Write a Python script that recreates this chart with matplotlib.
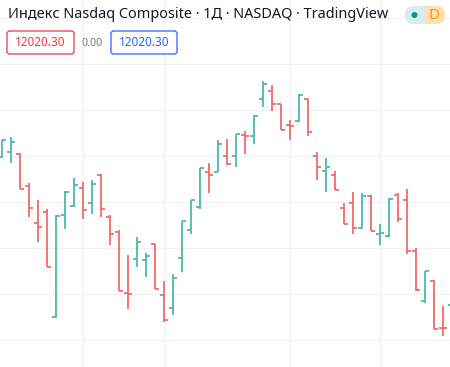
import matplotlib
matplotlib.use("Agg")
import matplotlib.pyplot as plt
from matplotlib.patches import FancyBboxPatch, Ellipse, Rectangle
import numpy as np

# ---------------- data (daily OHLC, index points) ----------------
opens = [12875, 12900, 12890, 12730, 12545, 12600, 12075, 12585, 12630, 12720,
         12645, 12785, 12575, 12500, 12195, 12365, 12360, 12440, 12185, 12120,
         12370, 12510, 12625, 12800, 12800, 12880, 12880, 12985, 12980, 13165,
         13205, 13140, 13035, 13055, 13165, 12880, 12805, 12785, 12620, 12645,
         12520, 12680, 12490, 12480, 12685, 12660, 12405, 12155, 12255, 12020.30,
         12135]
highs = [12960, 12975, 12895, 12745, 12660, 12615, 12585, 12705, 12770, 12750,
         12760, 12790, 12585, 12510, 12385, 12475, 12395, 12440, 12255, 12290,
         12555, 12660, 12820, 12845, 12960, 12965, 12990, 13005, 13085, 13255,
         13235, 13140, 13060, 13190, 13165, 12900, 12870, 12805, 12645, 12700,
         12695, 12685, 12540, 12670, 12695, 12715, 12420, 12305, 12260, 12130,
         12200]
lows = [12870, 12845, 12715, 12575, 12450, 12325, 12070, 12515, 12625, 12565,
        12590, 12575, 12435, 12205, 12115, 12325, 12275, 12215, 12050, 12085,
        12300, 12490, 12615, 12695, 12800, 12835, 12825, 12890, 12940, 13125,
        13105, 13010, 12960, 13050, 12980, 12760, 12700, 12710, 12540, 12490,
        12515, 12505, 12435, 12475, 12550, 12390, 12205, 12145, 12015, 11980,
        12100]
closes = [12960, 12950, 12715, 12620, 12525, 12325, 12580, 12700, 12735, 12610,
          12740, 12615, 12490, 12205, 12190, 12450, 12380, 12215, 12060, 12270,
          12555, 12660, 12820, 12785, 12940, 12840, 12990, 12980, 13080, 13240,
          13140, 13010, 13030, 13185, 13000, 12825, 12825, 12710, 12540, 12520,
          12680, 12505, 12495, 12665, 12565, 12405, 12210, 12305, 12015, 12020.30,
          12180]

title_text = "Индекс Nasdaq Composite · 1Д · NASDAQ · TradingView"
open_label = "12020.30"
change_label = "0.00"
close_label = "12020.30"
badge_label = "D"

grid_levels = [11960 + 230 * k for k in range(8)]
grid_bars = [9, 18, 32, 42]

# ---------------- style ----------------
TEAL = "#4db7ab"
RED = "#f26a68"
BOX_RED = "#f23645"
BLUE = "#2962ff"
GRID = "#eef0f2"
TXT = "#131722"
GRAY = "#787b86"

W, H = 450, 367
fig = plt.figure(figsize=(W / 100, H / 100), dpi=100)
fig.patch.set_facecolor("white")
ax = fig.add_axes([0, 0, 1, 1])
ax.set_xlim(-2 / 9, 448 / 9)
ax.set_ylim(11825, 13660)
ax.axis("off")

for g in grid_levels:
    ax.axhline(g, color=GRID, lw=0.8, zorder=0)
for g in grid_bars:
    ax.axvline(g, color=GRID, lw=0.8, zorder=0)

o = np.array(opens, dtype=float)
h = np.array(highs, dtype=float)
l = np.array(lows, dtype=float)
c = np.array(closes, dtype=float)
x = np.arange(len(o))
cols = np.where(c > o, TEAL, RED)
lw = 1.3
ax.vlines(x, l, h, colors=cols, lw=lw, zorder=3, capstyle="butt")
ax.hlines(o, x - 0.42, x, colors=cols, lw=lw, zorder=3)
ax.hlines(c, x, x + 0.42, colors=cols, lw=lw, zorder=3)

# ---------------- header (pixel coordinates) ----------------
def fx(px):
    return px / W

def fy(py):
    return 1 - py / H

renderer = fig.canvas.get_renderer()

def fit_text(px, py, s, target_w, color, fam="Noto Sans", ha="left", weight="normal"):
    t = fig.text(fx(px), fy(py), s, color=color, ha=ha, va="center",
                 fontsize=10, family=fam, weight=weight, zorder=12)
    w = t.get_window_extent(renderer).width
    t.set_fontsize(10 * target_w / w)
    return t

fit_text(8, 15, title_text, 382, TXT)

def box(x0, y0, x1, y1, ec, fc="white", r=3):
    p = FancyBboxPatch((fx(x0), fy(y1)), fx(x1) - fx(x0), fy(y0) - fy(y1),
                       boxstyle="round,pad=0,rounding_size=%f" % (r / W),
                       transform=fig.transFigure, ec=ec, fc=fc, lw=0.9, zorder=9)
    fig.add_artist(p)

box(7, 31, 74, 54, BOX_RED)
fit_text(40.5, 43, open_label, 50, BOX_RED, ha="center")
fit_text(92.5, 43, change_label, 21, GRAY, ha="center")
box(111, 31, 177, 54, BLUE)
fit_text(144, 43, close_label, 50, BLUE, ha="center")

# status badge
LT = "#d7efea"
LO = "#ffe0b0"
fig.add_artist(FancyBboxPatch((fx(405), fy(24)), fx(20), fy(6) - fy(24),
                              boxstyle="round,pad=0,rounding_size=%f" % (9 / W),
                              transform=fig.transFigure, ec="none", fc=LT, zorder=9))
fig.add_artist(FancyBboxPatch((fx(425), fy(24)), fx(20), fy(6) - fy(24),
                              boxstyle="round,pad=0,rounding_size=%f" % (9 / W),
                              transform=fig.transFigure, ec="none", fc=LO, zorder=9))
fig.add_artist(Rectangle((fx(418), fy(24)), fx(7), fy(6) - fy(24),
                         transform=fig.transFigure, ec="none", fc=LT, zorder=9))
fig.add_artist(Rectangle((fx(425), fy(24)), fx(8), fy(6) - fy(24),
                         transform=fig.transFigure, ec="none", fc=LO, zorder=9))
fig.add_artist(Ellipse((fx(414.5), fy(15)), 6 / W, 6 / H, transform=fig.transFigure,
                       ec="none", fc="#089981", zorder=11))
fit_text(434.5, 15.5, badge_label, 11, "#ff9800", ha="center", weight="bold")

fig.savefig("out.png", dpi=100, facecolor="white")
